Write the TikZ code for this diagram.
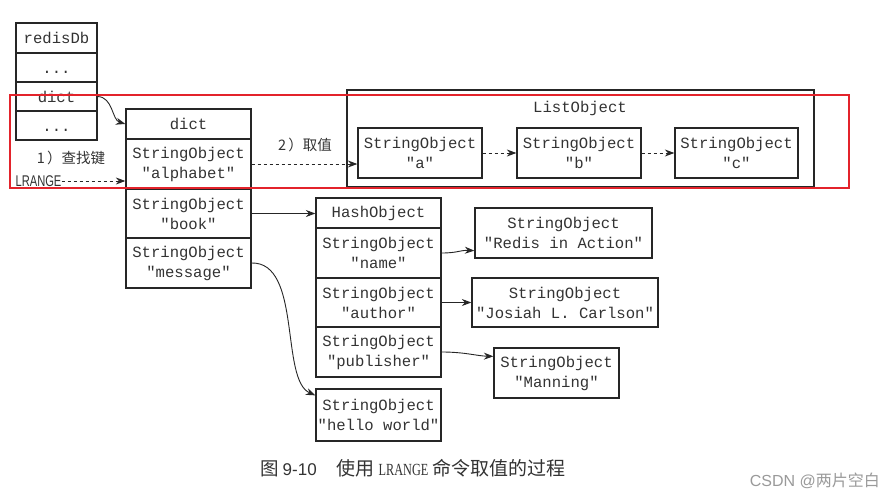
\documentclass[tikz,border=0pt]{standalone}
\usepackage{fontspec}
\usepackage{graphicx}
\setmonofont{Liberation Mono}
\newfontfamily\cjk{Noto Sans CJK SC}
\newfontfamily\lsans{Liberation Sans}
\newfontfamily\lserif{Liberation Serif}
\usetikzlibrary{arrows.meta,calc}
\definecolor{linecol}{HTML}{262626}
\definecolor{textcol}{HTML}{333333}
\definecolor{redbox}{HTML}{E3232B}
\definecolor{wmark}{HTML}{9A9A9A}
\tikzset{
  cell/.style={draw=linecol, line width=1.3pt, inner sep=0pt, text=textcol,
    align=center, font=\ttfamily\fontsize{15.6}{20}\selectfont},
  conn/.style={draw=linecol, line width=0.9pt, -{Stealth[length=9.5pt,width=7pt]}},
  dconn/.style={conn, dash pattern=on 3.5pt off 2.5pt},
  cjklab/.style={text=textcol, inner sep=0pt, font=\cjk\fontsize{14.5}{16}\selectfont},
}
\begin{document}
\begin{tikzpicture}[x=1pt,y=-1pt]
\useasboundingbox[fill=white] (0,0) rectangle (893,500);

% redisDb
\node[cell, minimum width=81pt, minimum height=30pt] (r0) at (56.5,38) {redisDb};
\node[cell, minimum width=81pt, minimum height=29pt] (r1) at (56.5,67.5) {\vphantom{d}...};
\node[cell, minimum width=81pt, minimum height=29pt] (r2) at (56.5,96.5) {dict};
\node[cell, minimum width=81pt, minimum height=29pt] (r3) at (56.5,125.5) {\vphantom{d}...};

% dict
\node[cell, minimum width=125pt, minimum height=30pt] (dh) at (188.5,124) {dict};
\node[cell, minimum width=125pt, minimum height=50pt] (alpha) at (188.5,164) {StringObject\\"alphabet"};
\node[cell, minimum width=125pt, minimum height=49pt] (book) at (188.5,213.5) {StringObject\\"book"};
\node[cell, minimum width=125pt, minimum height=50pt] (msg) at (188.5,263) {StringObject\\"message"};

% ListObject
\node[cell, minimum width=467pt, minimum height=97pt] (lo) at (580.5,138.5) {};
\node[text=textcol, font=\ttfamily\fontsize{15.6}{20}\selectfont, inner sep=0pt] (lot) at (580,108) {ListObject};
\node[cell, minimum width=124pt, minimum height=50pt] (la) at (420,153) {StringObject\\"a"};
\node[cell, minimum width=124pt, minimum height=50pt] (lb) at (579,153) {StringObject\\"b"};
\node[cell, minimum width=123pt, minimum height=50pt] (lc) at (736.5,153) {StringObject\\"c"};

% HashObject
\node[cell, minimum width=125pt, minimum height=30pt] (hh) at (378.5,213) {HashObject};
\node[cell, minimum width=125pt, minimum height=50pt] (hn) at (378.5,253) {StringObject\\"name"};
\node[cell, minimum width=125pt, minimum height=49pt] (ha) at (378.5,302.5) {StringObject\\"author"};
\node[cell, minimum width=125pt, minimum height=50pt] (hp) at (378.5,352) {StringObject\\"publisher"};

% values
\node[cell, minimum width=177pt, minimum height=50pt] (redis) at (563.5,233) {StringObject\\"Redis in Action"};
\node[cell, minimum width=186pt, minimum height=49pt] (josiah) at (565,302.5) {StringObject\\"Josiah L. Carlson"};
\node[cell, minimum width=125pt, minimum height=50pt] (manning) at (556.5,373) {StringObject\\"Manning"};
\node[cell, minimum width=125pt, minimum height=52pt] (hello) at (378.5,415) {StringObject\\"hello world"};

% labels
\node[cjklab] (l1) at (71,158) {1\,）查找键};
\node[text=textcol, inner sep=0pt] (lr) at (38.5,181)
  {\scalebox{0.72}[1]{\lsans\fontsize{15.5}{18}\selectfont LRANGE}};
\node[cjklab] (l2) at (305,145) {2\,）取值};

% connectors
\draw[conn] (r2.east) .. controls (113,97) and (112,120) .. (dh.west);
\draw[dconn] (lr.east) -- (lr.east -| alpha.west);
\draw[dconn] (alpha.east) -- (alpha.east -| la.west);
\draw[dconn] (la.east) -- (lb.west);
\draw[dconn] (lb.east) -- (lc.west);
\draw[conn] (book.east) -- (book.east -| hh.west);
\draw[conn] (hn.east) .. controls (458,253) and (460,250) .. ([yshift=8pt]redis.south west);
\draw[conn] (ha.east) -- (ha.east -| josiah.west);
\draw[conn] (hp.east) .. controls (465,352) and (477,356) .. ([yshift=-9pt]manning.north west);
\draw[conn] (msg.east) .. controls (302,262) and (280,380) .. ([yshift=-7pt]hello.north west);

% red highlight
\draw[redbox, line width=1.6pt] (10,95) rectangle (849,188);

% caption
\node[text=textcol, inner sep=0pt, anchor=west] (cap) at (260,468)
  {{\cjk\fontsize{18.5}{20}\selectfont 图}\hspace{4pt}{\lsans\fontsize{17}{20}\selectfont 9-10}\hspace{20pt}{\cjk\fontsize{19}{20}\selectfont 使用}\hspace{4pt}\scalebox{0.72}[1]{\lserif\fontsize{17}{20}\selectfont LRANGE}\hspace{4pt}{\cjk\fontsize{19}{20}\selectfont 命令取值的过程}};

% watermark
\node[text=wmark, inner sep=0pt, anchor=east] (wm) at (880,481)
  {{\lsans\fontsize{16}{18}\selectfont CSDN @}{\cjk\fontsize{16}{18}\selectfont 两片空白}};
\end{tikzpicture}
\end{document}
